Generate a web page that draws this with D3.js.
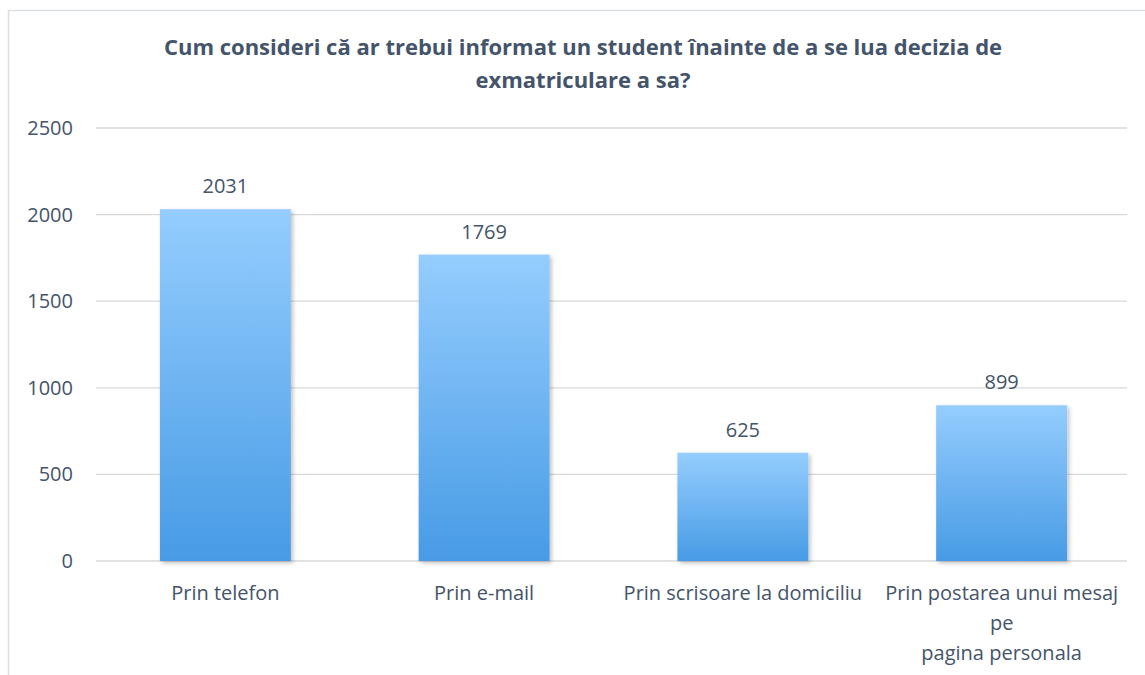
<!DOCTYPE html>
<html>
<head>
<meta charset="utf-8">
<script src="https://cdn.jsdelivr.net/npm/d3@7"></script>
<style>
  body { margin: 0; background: #fff; }
  svg text { font-family: "Open Sans", sans-serif; fill: #44546a; }
</style>
</head>
<body>
<svg id="chart" width="1145" height="675"></svg>
<script>
  var categories = [
    ['Prin telefon'],
    ['Prin e-mail'],
    ['Prin scrisoare la domiciliu'],
    ['Prin postarea unui mesaj', 'pe', 'pagina personala']
  ];
  var values = [2031, 1769, 625, 899];
  var ticks = [0, 500, 1000, 1500, 2000, 2500];
  var titleLines = ['Cum consideri că ar trebui informat un student înainte de a se lua decizia de', 'exmatriculare a sa?'];

  var svg = d3.select('#chart');
  var plotLeft = 96, plotRight = 1131, gridRight = 1127, plotTop = 128, plotBottom = 561;

  var defs = svg.append('defs');
  var grad = defs.append('linearGradient').attr('id', 'barGrad')
    .attr('x1', 0).attr('y1', 0).attr('x2', 0).attr('y2', 1);
  grad.append('stop').attr('offset', '0%').attr('stop-color', '#95cdfe');
  grad.append('stop').attr('offset', '100%').attr('stop-color', '#479be5');
  var shadow = defs.append('filter').attr('id', 'shadow')
    .attr('x', '-10%').attr('y', '-10%').attr('width', '130%').attr('height', '130%');
  shadow.append('feDropShadow').attr('dx', 2).attr('dy', 2).attr('stdDeviation', 2)
    .attr('flood-color', '#000').attr('flood-opacity', 0.25);

  // chart border
  svg.append('rect').attr('x', 8.5).attr('y', 10.5).attr('width', 1150).attr('height', 680)
    .attr('fill', 'none').attr('stroke', '#d9dee8').attr('stroke-width', 1.5);

  var x = d3.scaleBand().domain(d3.range(values.length)).range([plotLeft, plotRight])
    .paddingInner(0.494).paddingOuter(0.247);
  var y = d3.scaleLinear().domain([0, 2500]).range([plotBottom, plotTop]);

  // title
  svg.append('text').attr('x', 583).attr('y', 55).attr('text-anchor', 'middle')
    .style('font-size', '22px').style('font-weight', 'bold')
    .selectAll('tspan').data(titleLines).enter().append('tspan')
    .attr('x', 583).attr('dy', function(d, i) { return i ? 33 : 0; }).text(String);

  // gridlines
  svg.selectAll('.grid').data(ticks).enter().append('line')
    .attr('x1', plotLeft).attr('x2', gridRight)
    .attr('y1', function(d) { return y(d); }).attr('y2', function(d) { return y(d); })
    .attr('stroke', '#d9d9d9').attr('stroke-width', 1.3);

  // y tick labels
  svg.selectAll('.ytick').data(ticks).enter().append('text')
    .attr('x', 73).attr('y', function(d) { return y(d) + 7; })
    .attr('text-anchor', 'end').style('font-size', '20px').text(String);

  // bars
  svg.selectAll('.bar').data(values).enter().append('rect')
    .attr('x', function(d, i) { return x(i); })
    .attr('y', function(d) { return y(d); })
    .attr('width', x.bandwidth())
    .attr('height', function(d) { return y(0) - y(d); })
    .attr('fill', 'url(#barGrad)').attr('filter', 'url(#shadow)');

  // value labels
  svg.selectAll('.val').data(values).enter().append('text')
    .attr('x', function(d, i) { return x(i) + x.bandwidth() / 2; })
    .attr('y', function(d) { return y(d) - 16; })
    .attr('text-anchor', 'middle').style('font-size', '20px').text(String);

  // category labels
  var cat = svg.selectAll('.cat').data(categories).enter().append('text')
    .attr('text-anchor', 'middle').style('font-size', '20px');
  cat.selectAll('tspan').data(function(d, i) { return d.map(function(t) { return [t, i]; }); })
    .enter().append('tspan')
    .attr('x', function(d) { return x(d[1]) + x.bandwidth() / 2; })
    .attr('y', function(d, j) { return 600 + j * 30; })
    .text(function(d) { return d[0]; });
</script>
</body>
</html>
